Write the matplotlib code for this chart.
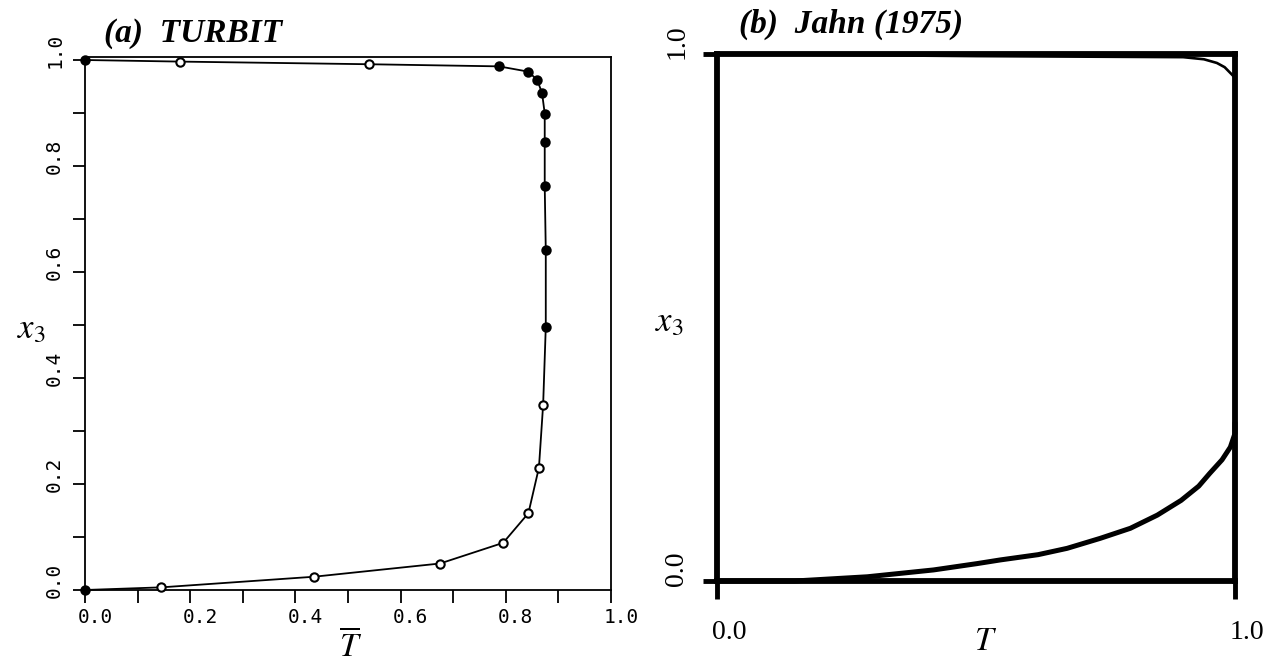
import numpy as np
import matplotlib
matplotlib.use('Agg')
import matplotlib.pyplot as plt
import matplotlib.transforms as mtransforms
from matplotlib.ticker import MultipleLocator

plt.rcParams['mathtext.fontset'] = 'stix'

# (a) TURBIT profile: mean temperature vs height
turbit_T = [0.0, 0.145, 0.435, 0.675, 0.795, 0.843, 0.863, 0.871,
            0.876, 0.876, 0.874, 0.874, 0.874, 0.869, 0.860, 0.843,
            0.787, 0.540, 0.180, 0.0]
turbit_x3 = [0.0, 0.005, 0.025, 0.050, 0.089, 0.145, 0.231, 0.350,
             0.496, 0.641, 0.762, 0.845, 0.899, 0.937, 0.962, 0.978,
             0.988, 0.992, 0.997, 1.0]
turbit_open = [False, True, True, True, True, True, True, True,
               False, False, False, False, False, False, False, False,
               False, True, True, False]

# (b) Jahn (1975): lower and upper branch of the profile
jahn_low_T = [0.0, 0.15, 0.29, 0.418, 0.502, 0.547, 0.62, 0.676, 0.740,
              0.798, 0.85, 0.896, 0.93, 0.951, 0.975, 0.991, 1.0, 1.0]
jahn_low_x3 = [0.0, 0.0, 0.008, 0.021, 0.033, 0.040, 0.050, 0.062, 0.081,
               0.100, 0.125, 0.153, 0.180, 0.204, 0.230, 0.254, 0.28, 0.30]
jahn_up_T = [0.0, 0.5, 0.90, 0.94, 0.965, 0.98, 0.99, 1.0]
jahn_up_x3 = [1.0, 0.996, 0.994, 0.990, 0.983, 0.975, 0.965, 0.955]

W, H = 1272, 665
fig = plt.figure(figsize=(W / 100, H / 100), dpi=100)


def shift(labels, dx, dy):
    off = mtransforms.ScaledTranslation(dx / 100, dy / 100, fig.dpi_scale_trans)
    for lab in labels:
        lab.set_transform(lab.get_transform() + off)


# ---- left panel
top1 = 1.006
ax1 = fig.add_axes([85 / W, 1 - 590 / H, 526 / W, 530 * top1 / H])
ax1.plot(turbit_T, turbit_x3, color='black', lw=1.3, zorder=2, clip_on=False)
for t, x, o in zip(turbit_T, turbit_x3, turbit_open):
    ax1.plot(t, x, 'o', ms=6, mec='black', mew=1.5,
             mfc='white' if o else 'black', zorder=3, clip_on=False)
ax1.set_xlim(0, 1)
ax1.set_ylim(0, top1)
ax1.xaxis.set_major_locator(MultipleLocator(0.2))
ax1.xaxis.set_minor_locator(MultipleLocator(0.1))
ax1.yaxis.set_major_locator(MultipleLocator(0.2))
ax1.yaxis.set_minor_locator(MultipleLocator(0.1))
ax1.tick_params(which='both', direction='out', length=9, width=1.3, color='black')
ax1.tick_params(axis='x', pad=4, labelsize=14)
ax1.tick_params(axis='y', pad=6, labelsize=14, labelrotation=90)
for lab in ax1.get_xticklabels() + ax1.get_yticklabels():
    lab.set_family('DejaVu Sans Mono')
for lab in ax1.get_yticklabels():
    lab.set_va('center')
shift(ax1.get_xticklabels(), 10, 0)
shift(ax1.get_yticklabels(), 0, 10)
for s in ax1.spines.values():
    s.set_linewidth(1.3)

fig.text(351 / W, 1 - 629 / H, r'$\overline{T}$', fontsize=24, ha='center', va='top')
fig.text(31 / W, 1 - 328 / H, r'$x_3$', fontsize=25, ha='center', va='center')
fig.text(104 / W, 1 - 42 / H, '(a)  TURBIT', family='Liberation Serif', style='italic',
         weight='bold', fontsize=24, ha='left', va='baseline')

# ---- right panel
ax2 = fig.add_axes([717 / W, 1 - 581 / H, 518 / W, 527 / H])
ax2.plot(jahn_low_T, jahn_low_x3, color='black', lw=3.6, solid_capstyle='round', clip_on=False)
ax2.plot(jahn_up_T, jahn_up_x3, color='black', lw=1.9, solid_capstyle='round', clip_on=False)
ax2.set_xlim(0, 1)
ax2.set_ylim(0, 1)
ax2.set_xticks([0.0, 1.0], ['0.0', '1.0'])
ax2.set_yticks([0.0, 1.0], ['0.0', '1.0'])
ax2.tick_params(axis='x', direction='out', length=13, width=3.5, pad=15, labelsize=20)
ax2.tick_params(axis='y', direction='out', length=10, width=3.5, pad=10, labelsize=20, labelrotation=90)
for lab in ax2.get_xticklabels() + ax2.get_yticklabels():
    lab.set_family('Liberation Serif')
for lab in ax2.get_yticklabels():
    lab.set_va('center')
shift(ax2.get_xticklabels(), 12, 0)
shift(ax2.get_yticklabels(), 0, 12)
for s in ax2.spines.values():
    s.set_linewidth(4.2)

fig.text(986 / W, 1 - 640 / H, r'$T$', fontsize=24, ha='center', va='center')
fig.text(669 / W, 1 - 321 / H, r'$x_3$', fontsize=25, ha='center', va='center')
fig.text(739 / W, 1 - 33 / H, '(b)  Jahn (1975)', family='Liberation Serif', style='italic',
         weight='bold', fontsize=24, ha='left', va='baseline')

fig.savefig('out.png', dpi=100)
